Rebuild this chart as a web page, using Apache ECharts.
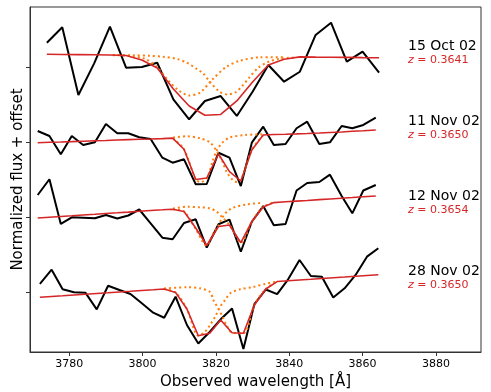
<!DOCTYPE html>
<html>
<head>
<meta charset="utf-8">
<script src="https://cdn.jsdelivr.net/npm/echarts@6/dist/echarts.min.js"></script>
<style>
html,body{margin:0;padding:0;background:#fff;}
#chart{width:491px;height:392px;}
</style>
</head>
<body>
<div id="chart"></div>
<script>
// 15 Oct 02 (offset 3)
var waveOct15 = [3773.9,3778.1,3782.5,3786.8,3791.1,3795.5,3799.8,3804.0,3808.4,3812.7,3817.0,3821.3,3825.7,3830.0,3834.3,3838.6,3842.9,3847.2,3851.4,3855.7,3860.0,3864.5];
var fluxOct15 = [3.324,3.529,2.627,3.049,3.537,2.991,3.0,3.057,2.569,2.303,2.547,2.613,2.347,2.671,3.027,2.804,2.937,3.427,3.591,3.071,3.204,2.924];
var fitOct15 = [3.169,3.167,3.165,3.163,3.16,3.153,3.093,2.987,2.707,2.48,2.356,2.367,2.547,2.8,3.027,3.103,3.135,3.132,3.131,3.128,3.125,3.124];
var compAWaveOct15 = [3791.9,3796.6,3800.7,3803.9,3806.9,3809.7,3812.7,3815.7,3818.9,3822.9,3826.6,3832.0,3838.8];
var compAOct15 = [3.157,3.149,3.107,3.0,2.827,2.693,2.62,2.66,2.827,3.004,3.084,3.129,3.131];
var compBWaveOct15 = [3791.9,3797.9,3802.0,3805.6,3809.4,3812.1,3814.8,3816.5,3818.4,3821.1,3823.3,3825.5,3827.4,3829.3,3831.5,3834.2,3837.5,3841.6];
var compBOct15 = [3.16,3.156,3.149,3.137,3.107,3.057,2.973,2.916,2.8,2.667,2.633,2.667,2.76,2.871,2.987,3.067,3.111,3.127];

// 11 Nov 02 and 12 Nov 02 share the pixel grid
var waveNov = [3771.4,3774.6,3777.7,3780.7,3783.8,3787.0,3790.0,3793.1,3796.1,3799.1,3802.2,3805.4,3808.2,3811.3,3814.5,3817.5,3820.7,3823.7,3826.8,3829.8,3832.9,3835.8,3839.0,3842.0,3844.9,3848.2,3851.1,3854.3,3857.2,3860.2,3863.6];

// 11 Nov 02 (offset 2)
var fluxNov11 = [2.147,2.08,1.836,2.08,1.96,1.996,2.24,2.116,2.116,2.063,2.04,1.791,1.724,1.769,1.436,1.44,1.857,1.791,1.413,1.991,2.204,1.96,1.973,2.183,2.271,1.973,1.996,2.213,2.183,2.227,2.324];
var fitNov11 = [1.991,1.996,2.0,2.005,2.011,2.016,2.02,2.027,2.032,2.036,2.04,2.045,2.052,1.903,1.5,1.52,1.84,1.604,1.48,1.893,2.093,2.099,2.103,2.108,2.113,2.12,2.127,2.133,2.144,2.151,2.16];
var compAWaveNov11 = [3808.3,3811.3,3814.5,3815.9,3817.6,3819.2,3820.3,3821.7,3823.8,3827.9,3832.8];
var compANov11 = [2.049,1.903,1.5,1.467,1.52,1.76,1.893,1.987,2.06,2.093,2.103];
var compBWaveNov11 = [3808.3,3812.1,3815.7,3818.4,3820.2,3821.6,3822.9,3824.6,3825.7,3826.8,3829.8,3832.8];
var compBNov11 = [2.06,2.076,2.049,1.993,1.88,1.76,1.604,1.493,1.467,1.493,1.893,2.087];

// 12 Nov 02 (offset 1)
var fluxNov12 = [1.293,1.503,0.907,0.996,0.991,0.983,1.027,0.98,1.02,1.1,0.916,0.724,0.703,0.92,0.969,0.591,0.903,0.964,0.537,0.937,1.147,0.889,0.907,1.353,1.453,1.467,1.564,1.28,1.049,1.353,1.427];
var fitNov12 = [0.987,0.997,1.007,1.016,1.027,1.036,1.047,1.056,1.065,1.076,1.087,1.096,1.104,1.073,0.853,0.62,0.873,0.893,0.657,0.937,1.133,1.192,1.203,1.212,1.221,1.232,1.241,1.251,1.26,1.271,1.28];
var compAWaveNov12 = [3808.3,3811.3,3814.3,3817.5,3819.2,3820.6,3821.7,3823.0,3824.7,3828.5,3832.6];
var compANov12 = [1.104,1.073,0.853,0.62,0.773,0.88,0.987,1.071,1.124,1.169,1.187];
var compBWaveNov12 = [3808.3,3812.1,3815.7,3818.4,3820.2,3821.6,3823.7,3825.2,3826.8,3829.8,3832.8,3835.8];
var compBNov12 = [1.113,1.137,1.129,1.116,1.071,1.004,0.893,0.773,0.657,0.937,1.133,1.192];

// 28 Nov 02 (offset 0)
var waveNov28 = [3772.0,3775.2,3778.2,3781.3,3784.4,3787.5,3790.6,3793.7,3796.7,3799.8,3802.9,3805.9,3809.0,3812.1,3815.2,3818.3,3821.3,3824.4,3827.5,3830.5,3833.6,3836.7,3839.7,3842.8,3845.9,3848.9,3852.0,3855.1,3858.1,3861.2,3864.3];
var fluxNov28 = [0.107,0.297,0.036,-0.004,-0.009,-0.231,0.084,0.027,-0.027,-0.151,-0.276,-0.343,-0.063,-0.44,-0.687,-0.533,-0.364,-0.22,-0.76,-0.16,0.033,-0.029,0.169,0.427,0.213,0.204,-0.073,0.049,0.227,0.471,0.583];
var fitNov28 = [-0.071,-0.06,-0.051,-0.04,-0.031,-0.02,-0.011,0,0.009,0.02,0.029,0.04,-0.007,-0.227,-0.583,-0.551,-0.373,-0.543,-0.551,-0.173,0.04,0.139,0.149,0.159,0.169,0.179,0.189,0.199,0.209,0.219,0.229];
var compAWaveNov28 = [3805.9,3809.0,3812.1,3815.2,3817.0,3818.4,3819.8,3821.1,3822.5,3823.9,3826.6,3830.1,3833.4,3836.7];
var compANov28 = [0.04,-0.007,-0.227,-0.583,-0.533,-0.44,-0.329,-0.2,-0.107,-0.017,0.036,0.067,0.107,0.139];
var compBWaveNov28 = [3805.9,3812.1,3815.7,3818.4,3819.3,3820.6,3821.8,3822.9,3824.4,3827.5,3830.5,3833.6,3836.7];
var compBNov28 = [0.047,0.063,0.049,0.0,-0.107,-0.217,-0.329,-0.44,-0.543,-0.551,-0.173,0.04,0.139];

var dates = ['15 Oct 02','11 Nov 02','12 Nov 02','28 Nov 02'];
var redshifts = ['0.3641','0.3650','0.3654','0.3650'];
var offsets = [3,2,1,0];
var xTicks = [3780,3800,3820,3840,3860,3880];
var yTicks = [0,1,2,3];

function pairs(xs, ys) {
	var out = [];
	for (var i = 0; i < xs.length; i++) {
		out.push([xs[i], ys[i]]);
	}
	return out;
}

var spectra = [
	{wave: waveOct15, flux: fluxOct15, fit: fitOct15, aw: compAWaveOct15, a: compAOct15, bw: compBWaveOct15, b: compBOct15},
	{wave: waveNov, flux: fluxNov11, fit: fitNov11, aw: compAWaveNov11, a: compANov11, bw: compBWaveNov11, b: compBNov11},
	{wave: waveNov, flux: fluxNov12, fit: fitNov12, aw: compAWaveNov12, a: compANov12, bw: compBWaveNov12, b: compBNov12},
	{wave: waveNov28, flux: fluxNov28, fit: fitNov28, aw: compAWaveNov28, a: compANov28, bw: compBWaveNov28, b: compBNov28}
];

var seriesArray = [];
for (var s = 0; s < spectra.length; s++) {
	var sp = spectra[s];
	seriesArray.push({type: 'line', data: pairs(sp.wave, sp.flux), symbol: 'none', z: 2,
		lineStyle: {color: '#000000', width: 2}});
	seriesArray.push({type: 'line', data: pairs(sp.aw, sp.a), symbol: 'none', smooth: 0.3, z: 3,
		lineStyle: {color: '#ff7f0e', width: 2, type: [2, 3]}});
	seriesArray.push({type: 'line', data: pairs(sp.bw, sp.b), symbol: 'none', smooth: 0.3, z: 3,
		lineStyle: {color: '#ff7f0e', width: 2, type: [2, 3]}});
	seriesArray.push({type: 'line', data: pairs(sp.wave, sp.fit), symbol: 'none', z: 4,
		lineStyle: {color: '#d62728', width: 1.6}});
}

var myChart = echarts.init(document.getElementById('chart'));
var option = {
	animation: false,
	textStyle: {fontFamily: 'DejaVu Sans'},
	grid: {left: 30, right: 10, top: 7, bottom: 40, show: true, borderColor: '#333', borderWidth: 1,
		containLabel: false, outerBoundsMode: 'none'},
	xAxis: {
		type: 'value', min: 3769.3, max: 3892.3,
		name: 'Observed wavelength [Å]', nameLocation: 'middle', nameGap: 22,
		nameTextStyle: {fontSize: 15, color: '#000', fontFamily: 'DejaVu Sans'},
		axisLine: {show: true, onZero: false, lineStyle: {color: '#333'}},
		splitLine: {show: false},
		axisTick: {show: true, inside: false, customValues: xTicks, length: 4, lineStyle: {color: '#333'}},
		axisLabel: {customValues: xTicks, fontSize: 11, color: '#000', margin: 7, fontFamily: 'DejaVu Sans',
			formatter: function(v) { return String(v); }}
	},
	yAxis: {
		type: 'value', min: -0.8, max: 3.8,
		name: 'Normalized flux + offset', nameLocation: 'middle', nameGap: 4,
		nameTextStyle: {fontSize: 15, color: '#000', fontFamily: 'DejaVu Sans'},
		axisLine: {show: true, onZero: false, lineStyle: {color: '#333'}},
		splitLine: {show: false},
		axisTick: {show: true, inside: false, customValues: yTicks, length: 4, lineStyle: {color: '#333'}},
		axisLabel: {show: false}
	},
	series: seriesArray
};
myChart.setOption(option);

var labelX = 3872.4;
var texts = [];
for (var k = 0; k < dates.length; k++) {
	var p1 = myChart.convertToPixel({gridIndex: 0}, [labelX, offsets[k] + 0.27]);
	var p2 = myChart.convertToPixel({gridIndex: 0}, [labelX, offsets[k] + 0.09]);
	texts.push({type: 'text', x: p1[0], y: p1[1], style: {text: dates[k], fill: '#000',
		font: '14px "DejaVu Sans"', verticalAlign: 'middle', align: 'left'}});
	texts.push({type: 'text', x: p2[0], y: p2[1], style: {
		text: '{i|z} = ' + redshifts[k], fill: '#d62728', font: '11px "DejaVu Sans"',
		verticalAlign: 'middle', align: 'left',
		rich: {i: {fontStyle: 'italic', fontSize: 11, fontFamily: 'DejaVu Sans', fill: '#d62728'}}}});
}
myChart.setOption({graphic: texts});
</script>
</body>
</html>
